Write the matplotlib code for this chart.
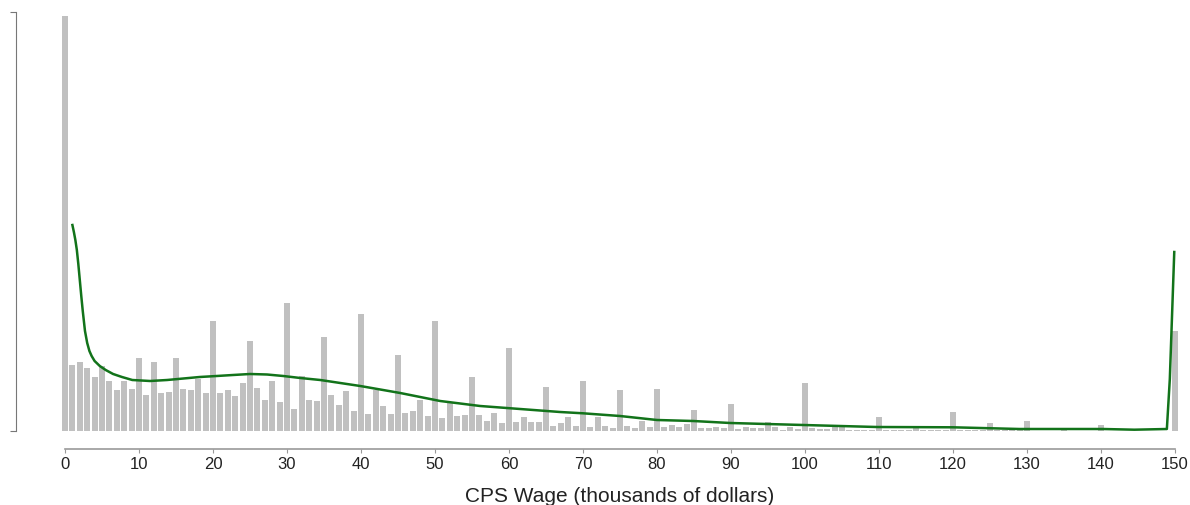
import numpy as np
import matplotlib.pyplot as plt

plt.rcParams['font.family'] = ['Liberation Sans', 'DejaVu Sans']

# wage bins (thousands of dollars)
wage = np.arange(0, 151)

# bar heights (counts, arbitrary units)
counts = [415, 66, 69, 63, 54, 65, 50, 41, 50, 42,
          73, 36, 69, 38, 39, 73, 42, 41, 52, 38,
          110, 38, 41, 35, 48, 90, 43, 31, 50, 29,
          128, 22, 55, 31, 30, 94, 36, 26, 40, 20,
          117, 17, 41, 25, 17, 76, 18, 20, 31, 15,
          110, 13, 29, 15, 16, 54, 16, 10, 18, 8,
          83, 9, 14, 9, 9, 44, 5, 8, 14, 5,
          50, 4, 14, 5, 3, 41, 5, 3, 10, 4,
          42, 4, 6, 4, 7, 21, 3, 3, 4, 3,
          27, 2, 4, 3, 3, 9, 4, 1, 4, 2,
          48, 3, 2, 2, 4, 4, 1, 1, 1, 1,
          14, 1, 1, 1, 1, 5, 1, 1, 1, 1,
          19, 1, 1, 1, 1, 8, 1, 1, 1, 1,
          10, 0.5, 0.5, 0.5, 0.5, 2, 0.5, 0.5, 0.5, 0.5,
          6, 0.5, 0.5, 0.5, 0.5, 0.5, 0.5, 0.5, 0.5, 0.5,
          100]

# smoothed density curve
dens_x = [1, 1.2, 1.4, 1.6, 1.8, 2.0, 2.2, 2.4, 2.7, 3.0, 3.3, 3.6, 4.0,
          4.7, 5.5, 6.5, 7.7, 9.1, 11.5, 13.8, 16, 18.2, 20.5, 22.7, 25,
          27.3, 29.5, 31.8, 34.5, 37.2, 39.9, 42.6, 45.3, 48, 50.7, 53.4,
          56.1, 61.5, 66.9, 70, 75, 80, 84.9, 89.9, 94.8, 99.8, 104.7,
          109.7, 120, 129, 140.3, 144.5, 148.9, 149.3, 149.9]
dens_y = [206, 199, 191, 181, 167, 151, 135, 120, 100, 88, 80, 75, 70,
          65, 61, 57, 54, 51, 50, 51, 52.5, 54, 55, 56, 57,
          56.5, 55, 53, 51, 48, 45, 41.5, 38, 34, 30, 27.5,
          25, 22, 19, 17.7, 15, 11, 10, 8, 7, 6, 5,
          4, 3.7, 2, 2, 1.3, 2, 52, 179]

fig = plt.figure(figsize=(11.9, 5.06), dpi=100)
ax = fig.add_axes([57.6 / 1190, 74 / 506, 1124.8 / 1190, 419 / 506])

ax.bar(wage, counts, width=0.8, color='#c0c0c0', linewidth=0)
ax.plot(dens_x, dens_y, color='#12731a', linewidth=1.8)

ax.set_xlim(-1, 151)
ax.set_ylim(0, 419)

for s in ['top', 'right']:
    ax.spines[s].set_visible(False)
ax.spines['left'].set_position(('outward', 30))
ax.spines['bottom'].set_position(('outward', 13))
ax.spines['bottom'].set_bounds(0, 150)
ax.spines['left'].set_color('#777777')
ax.spines['bottom'].set_color('#999999')
ax.spines['bottom'].set_linewidth(1.2)

ax.set_xticks(np.arange(0, 151, 10))
ax.set_yticks([0, 419])
ax.set_yticklabels([])
ax.tick_params(axis='y', length=4, color='#777777')
ax.tick_params(axis='x', length=3, pad=2, color='#999999',
               labelsize=12, labelcolor='#222222')

ax.set_xlabel('CPS Wage (thousands of dollars)', fontsize=15,
              color='#222222', labelpad=11)

plt.savefig('out.png', dpi=100)
